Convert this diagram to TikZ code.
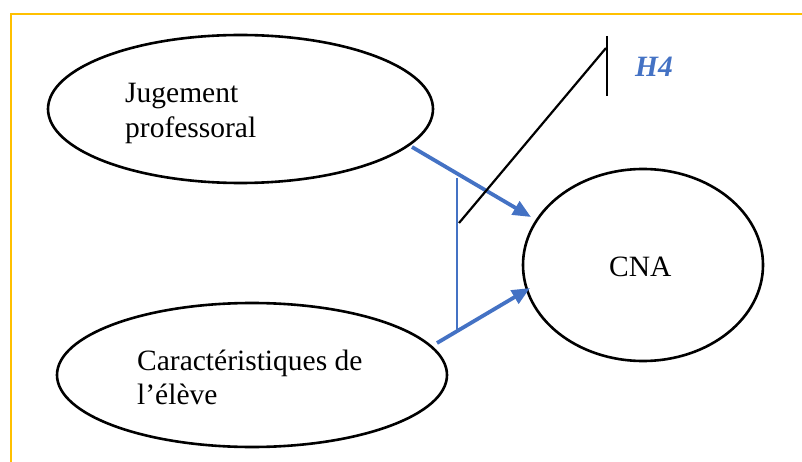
\documentclass[tikz,border=0pt]{standalone}
\usepackage{fontspec}
\setmainfont{Liberation Serif}
\usetikzlibrary{shapes.geometric,arrows.meta}
\definecolor{frameyellow}{HTML}{FFC000}
\definecolor{arrowblue}{HTML}{4472C4}
\begin{document}
\begin{tikzpicture}[x=1pt,y=-1pt,
  oval/.style={draw=black, line width=2.6pt, shape=ellipse, inner sep=0pt},
  txt/.style={inner sep=0pt, anchor=base west, font=\fontsize{29.5}{35}\selectfont},
  bluearrow/.style={draw=arrowblue, line width=3.8pt, -{Triangle[length=18pt,width=15pt]}},
  blueline/.style={draw=arrowblue, line width=2.2pt},
  blackline/.style={draw=black, line width=2.2pt}]
\useasboundingbox (0,0) rectangle (802,462);
\draw[frameyellow, line width=1.5pt] (11,462) -- (11,14) -- (802,14);
% ellipses
\node[oval, minimum width=385pt, minimum height=148pt] (jug) at (240.5,109) {};
\node[oval, minimum width=390pt, minimum height=144pt] (car) at (252,375) {};
\node[oval, minimum width=240pt, minimum height=192pt] (cna) at (643,265) {};
% texts
\node[txt] (jugA) at (125,103) {Jugement};
\node[txt] (jugB) at (125,138) {professoral};
\node[txt] (carA) at (137,370) {Caractéristiques de};
\node[txt] (carB) at (137,404) {l’élève};
\node[txt] (cnaT) at (609,276) {CNA};
\node[txt, text=arrowblue, font=\fontsize{29.5}{35}\selectfont\bfseries\itshape] (hq) at (635,77) {H4};
% connectors
\coordinate (a1s) at (412,147);
\coordinate (a1e) at (531,217);
\coordinate (a2s) at (437,343);
\coordinate (a2e) at (530,288);
\coordinate (vtop) at (457,178);
\coordinate (vbot) at (457,331);
\coordinate (bls) at (459,223);
\coordinate (ble) at (606,48);
\coordinate (bvt) at (607,36);
\coordinate (bvb) at (607,96);
\draw[bluearrow] (a1s) -- (a1e);
\draw[bluearrow] (a2s) -- (a2e);
\draw[blueline] (vtop) -- (vbot);
\draw[blackline] (bls) -- (ble);
\draw[blackline] (bvt) -- (bvb);
\end{tikzpicture}
\end{document}
